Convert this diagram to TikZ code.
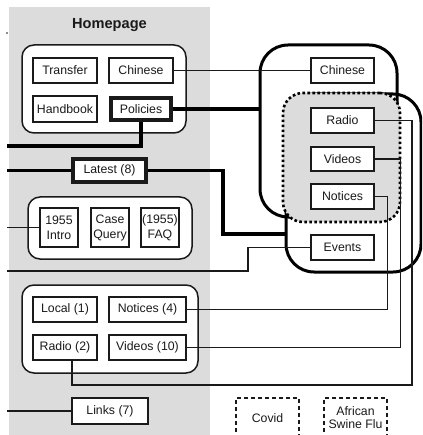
\documentclass[tikz,border=0pt]{standalone}
\usepackage{fontspec}
\setmainfont{Liberation Sans}
\definecolor{band}{HTML}{DCDCDC}
\definecolor{ink}{HTML}{1A1A1A}
\tikzset{
  page/.style={draw=ink, line width=1.1pt, fill=white, inner sep=0pt, text=ink,
    font=\fontsize{12.3}{15}\selectfont, align=center},
  hot/.style={page, line width=3.6pt},
  group/.style={draw=ink, line width=1.5pt, fill=white, rounded corners=12pt, inner sep=0pt},
  cluster/.style={draw=black, line width=3pt, rounded corners=28pt, inner sep=0pt},
  feed/.style={draw=black, line width=2.6pt, dash pattern=on 2.6pt off 2.4pt,
    fill=band, rounded corners=20pt, inner sep=0pt},
  draft/.style={page, dash pattern=on 4pt off 3pt, font=\fontsize{12.3}{13}\selectfont},
  link/.style={draw=ink, line width=1.1pt},
  hotlink/.style={draw=black, line width=3.6pt},
}
\begin{document}
\begin{tikzpicture}[x=1pt, y=-1pt]
\useasboundingbox (0,0) rectangle (422,435);
\clip (0,0) rectangle (422,435);

% homepage column
\fill[band] (8.5,7) rectangle (210,440);
\node[font=\fontsize{14.6}{16}\selectfont\bfseries, text=ink] (title) at (109.5,25) {Homepage};
\fill[ink] (7,33) circle (0.8);

% section clusters on the right
\node[cluster, minimum width=137pt, minimum height=172pt] (A) at (328.5,131) {};
\node[cluster, minimum width=135pt, minimum height=178pt] (B) at (353.5,183) {};
\node[feed, minimum width=117pt, minimum height=129pt] (C) at (341.5,157.5) {};

% homepage groups
\node[group, minimum width=164pt, minimum height=88pt] (g1) at (104,89) {};
\node[group, minimum width=164pt, minimum height=62pt] (g2) at (110,228) {};
\node[group, minimum width=176pt, minimum height=88pt] (g3) at (110,329) {};

% homepage pages
\node[page, minimum width=64pt, minimum height=25pt] (tr) at (65,70.5) {Transfer};
\node[page, minimum width=64pt, minimum height=25pt] (chL) at (141,70.5) {Chinese};
\node[page, minimum width=64pt, minimum height=26pt] (hb) at (65,109) {Handbook};
\node[hot, minimum width=60.4pt, minimum height=22.4pt] (pol) at (141,109) {Policies};
\node[hot, minimum width=73.4pt, minimum height=23.4pt] (lat) at (109.5,170.5) {Latest (8)};
\node[page, minimum width=38pt, minimum height=39pt] (intro) at (59,227.5) {1955\\Intro};
\node[page, minimum width=38pt, minimum height=39pt] (cq) at (110,227.5) {Case\\Query};
\node[page, minimum width=38pt, minimum height=39pt] (faq) at (160,227.5) {(1955)\\FAQ};
\node[page, minimum width=64pt, minimum height=25pt] (loc) at (65,309.5) {Local (1)};
\node[page, minimum width=77pt, minimum height=25pt] (n4) at (147.5,309.5) {Notices (4)};
\node[page, minimum width=64pt, minimum height=25pt] (r2) at (65,347.5) {Radio (2)};
\node[page, minimum width=77pt, minimum height=25pt] (v10) at (147.5,347.5) {Videos (10)};
\node[page, minimum width=76pt, minimum height=26pt] (lk) at (110,411) {Links (7)};

% section pages
\node[page, minimum width=63pt, minimum height=25pt] (chR) at (342.5,70.5) {Chinese};
\node[page, minimum width=63pt, minimum height=25pt] (raR) at (342.5,120.5) {Radio};
\node[page, minimum width=63pt, minimum height=24pt] (viR) at (342.5,159) {Videos};
\node[page, minimum width=63pt, minimum height=25pt] (noR) at (342.5,196.5) {Notices};
\node[page, minimum width=63pt, minimum height=25pt] (ev) at (342.5,247.5) {Events};

% drafts
\node[draft, minimum width=63pt, minimum height=40pt] (cov) at (267.5,418) {Covid};
\node[draft, minimum width=63pt, minimum height=40pt] (asf) at (355.5,418) {African\\Swine Flu};

% free line ends on the left
\coordinate (polL) at (7,146);
\coordinate (latL) at (7,170.5);
\coordinate (introL) at (7,227.5);
\coordinate (evL) at (7,271);
\coordinate (lkL) at (7,411);
\coordinate (latBend) at (223,234);
\coordinate (evBend) at (248,271);
\coordinate (radBend) at (412,385);

% thick connectors
\draw[hotlink] (pol.east) -- (pol.east -| A.west);
\draw[hotlink] (pol.south) |- (polL);
\draw[hotlink] (latL) -- (lat.west);
\draw[hotlink] (lat.east) -| (latBend) -- (latBend -| B.west);

% thin connectors
\draw[link] (chL.east) -- (chR.west);
\draw[link] (introL) -- (intro.west);
\draw[link] (ev.west) -| (evBend) -- (evL);
\draw[link] (lkL) -- (lk.west);
\draw[link] (noR.east) -- ++(13,0) |- (n4.east);
\draw[link] (viR.east) -- ++(26,0) |- (v10.east);
\draw[link] (raR.east) -| (radBend) -| ([xshift=7pt]r2.south);
\end{tikzpicture}
\end{document}
